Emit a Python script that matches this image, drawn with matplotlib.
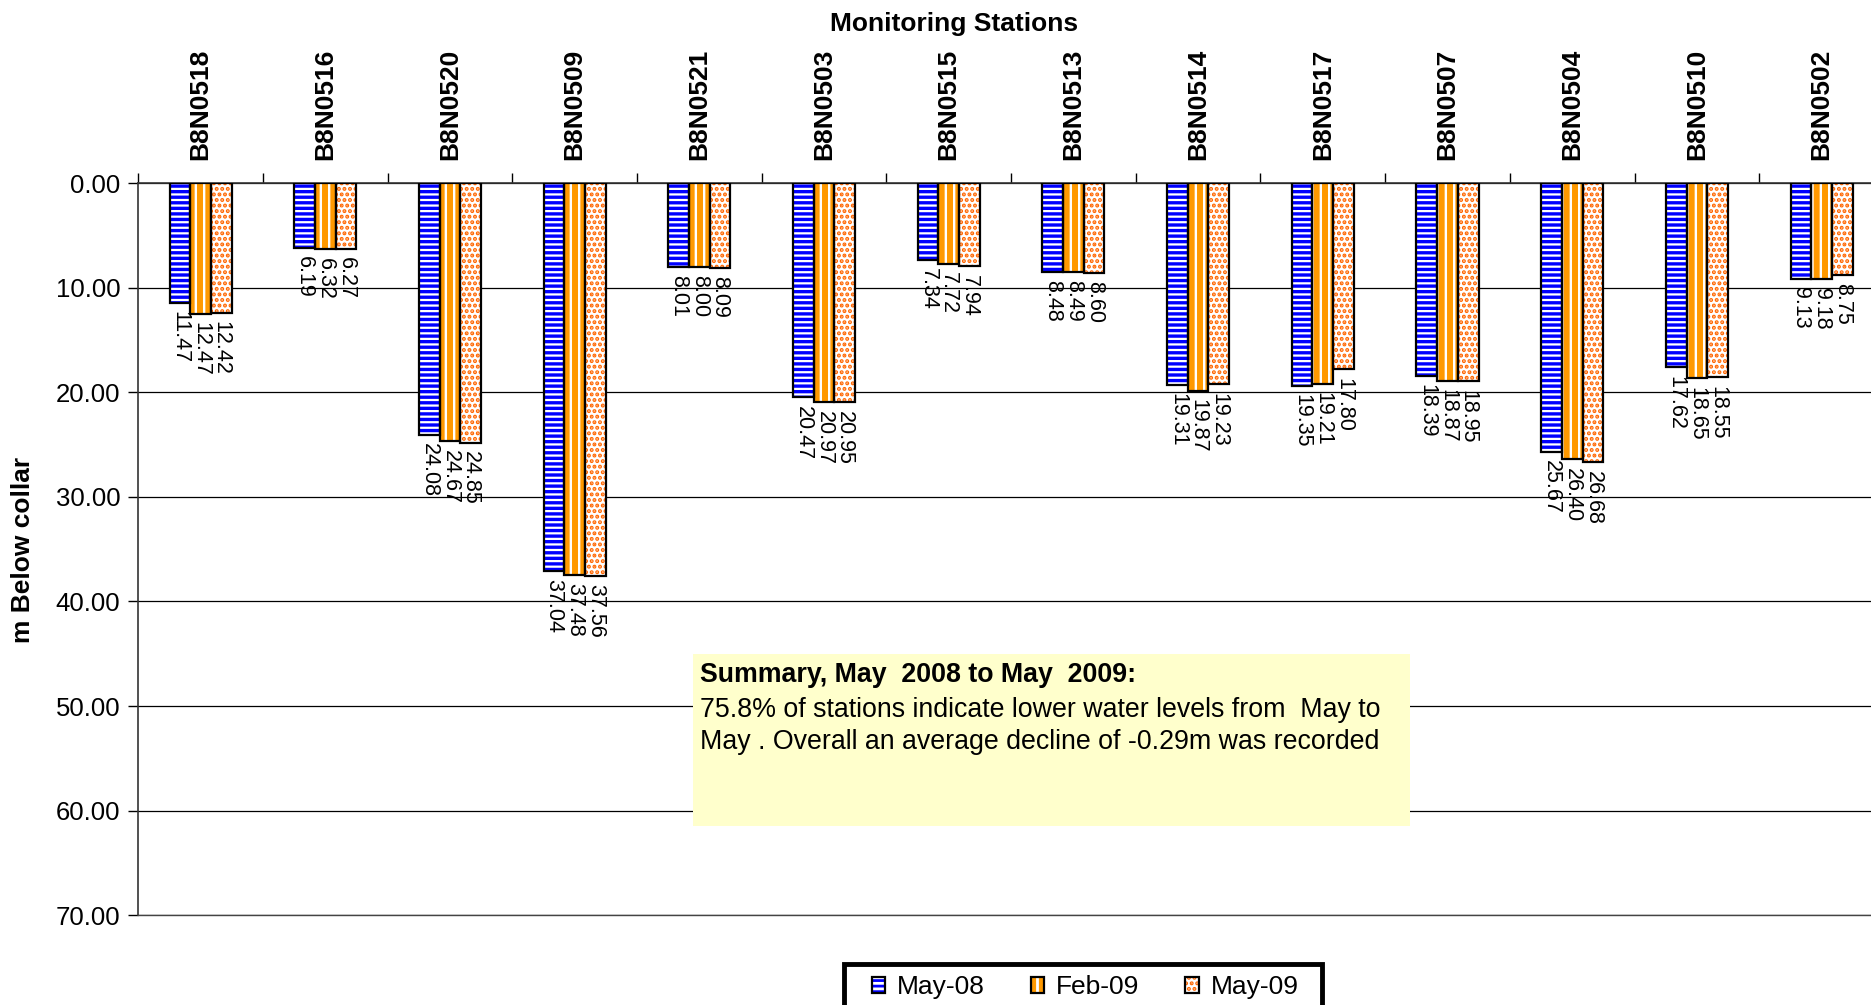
import matplotlib
matplotlib.use("Agg")
import matplotlib.pyplot as plt
from matplotlib.patches import Rectangle
from matplotlib.ticker import FormatStrFormatter
from matplotlib import font_manager

# Depth to water (m below collar) at each monitoring station
stations = ["B8N0518", "B8N0516", "B8N0520", "B8N0509", "B8N0521", "B8N0503",
            "B8N0515", "B8N0513", "B8N0514", "B8N0517", "B8N0507", "B8N0504",
            "B8N0510", "B8N0502"]
may08 = [11.47, 6.19, 24.08, 37.04, 8.01, 20.47, 7.34, 8.48, 19.31, 19.35,
         18.39, 25.67, 17.62, 9.13]
feb09 = [12.47, 6.32, 24.67, 37.48, 8.00, 20.97, 7.72, 8.49, 19.87, 19.21,
         18.87, 26.40, 18.65, 9.18]
may09 = [12.42, 6.27, 24.85, 37.56, 8.09, 20.95, 7.94, 8.60, 19.23, 17.80,
         18.95, 26.68, 18.55, 8.75]
series_names = ["May-08", "Feb-09", "May-09"]
y_ticks = [0, 10, 20, 30, 40, 50, 60, 70]

summary_title = "Summary, May  2008 to May  2009:"
summary_lines = ["75.8% of stations indicate lower water levels from  May to",
                 "May . Overall an average decline of -0.29m was recorded"]

available = {f.name for f in font_manager.fontManager.ttflist}
base_font = "Liberation Sans" if "Liberation Sans" in available else "DejaVu Sans"

plt.rcParams["font.family"] = [base_font, "DejaVu Sans"]
plt.rcParams["hatch.linewidth"] = 2.0

fig = plt.figure(figsize=(18.71, 10.05), dpi=100)
ax = fig.add_axes([0.0739, 0.0894, 0.9330, 0.7283])

n = len(stations)
x = list(range(n))
width = 0.166

styles = [
    dict(face="white", hatch="---", hcolor="#0000FF", hlw=2.4),
    dict(face="#FF9900", hatch="||", hcolor="white", hlw=1.7),
    dict(face="white", hatch="...", hcolor="#FF6600", hlw=2.0),
]

handles = []
for k, (vals, st) in enumerate(zip([may08, feb09, may09], styles)):
    pos = [xi + (k - 1) * width for xi in x]
    with plt.rc_context({"hatch.linewidth": st["hlw"]}):
        fill = ax.bar(pos, vals, width=width, color=st["face"], hatch=st["hatch"],
                      edgecolor=st["hcolor"], linewidth=0, zorder=2)
    edge = ax.bar(pos, vals, width=width, fill=False, edgecolor="black",
                  linewidth=1.6, zorder=3)
    handles.append((fill.patches[0], edge.patches[0]))
    for p, v in zip(pos, vals):
        ax.annotate(f"{v:.2f}", xy=(p, v), xytext=(0, -6), textcoords="offset points",
                    rotation=-90, ha="center", va="top", fontsize=15.5, zorder=4)

ax.set_xlim(-0.5, n - 0.5)
ax.set_ylim(70, 0)
ax.set_yticks(y_ticks)
ax.yaxis.set_major_formatter(FormatStrFormatter("%.2f"))
ax.tick_params(axis="y", labelsize=18.5, length=7, width=1, direction="out", pad=6)
ax.grid(axis="y", color="black", linewidth=0.9, zorder=0.5)
ax.set_axisbelow(True)

# Station names on top, ticks between the groups
ax.xaxis.tick_top()
ax.set_xticks([i - 0.5 for i in range(n + 1)])
ax.set_xticklabels([])
ax.set_xticks(x, minor=True)
ax.set_xticklabels(stations, minor=True, rotation=90, fontsize=19, fontweight="bold")
ax.tick_params(axis="x", which="major", length=7, width=1, direction="out")
ax.tick_params(axis="x", which="minor", length=0, pad=17)

ax.spines["right"].set_visible(False)
ax.spines["bottom"].set_color("#444444")
ax.spines["bottom"].set_linewidth(1.0)
for side in ["left", "top"]:
    ax.spines[side].set_color("#333333")
    ax.spines[side].set_linewidth(1.2)

fig.text(954 / 1871, 1 - 24 / 1005, "Monitoring Stations", ha="center", va="center",
         fontsize=19, fontweight="bold")
fig.text(23 / 1871, 1 - 550 / 1005, "m Below collar", ha="center", va="center",
         rotation=90, fontsize=19, fontweight="bold")

# Summary note
def ax_x(px):
    return (px - 138.3) / 1745.7


def ax_y(py):
    return (915.2 - py) / 731.9


ax.add_patch(Rectangle((ax_x(693), ax_y(826)), ax_x(1410) - ax_x(693), ax_y(654) - ax_y(826),
                       transform=ax.transAxes, facecolor="#FFFFCC", edgecolor="none",
                       zorder=5))
ax.text(ax_x(700), ax_y(682), summary_title, transform=ax.transAxes, fontsize=19.3,
        fontweight="bold", va="baseline", zorder=6)
for line, py in zip(summary_lines, [717, 749]):
    ax.text(ax_x(700), ax_y(py), line, transform=ax.transAxes, fontsize=19.3,
            va="baseline", zorder=6)

# Legend with a heavy frame running off the bottom edge
fig.add_artist(Rectangle((844 / 1871, -0.02), 478 / 1871, 0.02 + 1 - 964 / 1005,
                         transform=fig.transFigure, facecolor="white",
                         edgecolor="black", linewidth=3.5, zorder=1))
fig.legend(handles, series_names, loc="center", bbox_to_anchor=(1085 / 1871, 1 - 987 / 1005),
           ncol=3, frameon=False, fontsize=19, handlelength=0.5, handleheight=0.55,
           handletextpad=0.45, columnspacing=1.75, borderpad=0.1)

fig.savefig("out.png", dpi=100)
